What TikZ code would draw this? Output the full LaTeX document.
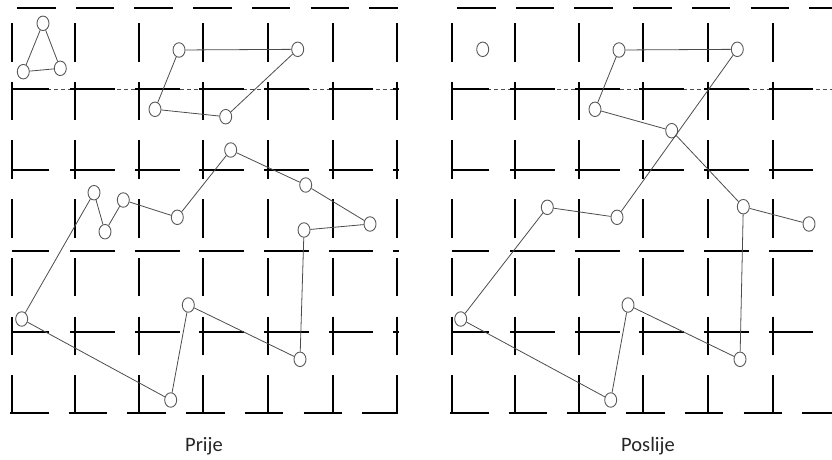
\documentclass[tikz,border=0pt]{standalone}
\usepackage{fontspec}
\setmainfont{Carlito}
\usetikzlibrary{shapes.geometric}
\begin{document}
\begin{tikzpicture}[x=1pt,y=-1pt,
  gridline/.style={line width=2.6pt, black},
  griddash/.style={gridline, dash pattern=on 38.5pt off 20.2pt},
  thinrule/.style={line width=0.7pt, black!70, dash pattern=on 4pt off 3pt},
  vx/.style={ellipse, draw=black!65, line width=0.9pt, minimum width=12pt,
    minimum height=14.5pt, inner sep=0pt},
  link/.style={black!70, line width=0.8pt},
  caption/.style={font=\fontsize{20.5}{24}\selectfont, text=black!85, anchor=base}]
\useasboundingbox (0,0) rectangle (832,459);

% dashed grids of both panels
\begin{scope}
\clip (0,0) rectangle (832,459);
\foreach \ox in {0,440} {
  \draw[thinrule] (12+\ox,89) -- (399+\ox,89);
  \foreach \X in {12,75,139,203,268,333,397}
    \draw[griddash] (\X+\ox,23) -- (\X+\ox,413.5);
  \draw[griddash] (17+\ox,8) -- (398+\ox,8);
  \draw[griddash] (10+\ox,413) -- (398+\ox,413);
  \foreach \Y in {89,170,251,332}
    \foreach \a/\b in {12/49,70/115,135/180,199/244,264/309,329/373,393/399}
      \draw[gridline] (\a+\ox,\Y) -- (\b+\ox,\Y);
}
\end{scope}

% graph before
\node[vx] (t1) at (43,23.3) {};
\node[vx] (t2) at (23.3,71.7) {};
\node[vx] (t3) at (60.3,68.3) {};
\node[vx] (q1) at (179,50) {};
\node[vx] (q2) at (297.7,49.3) {};
\node[vx] (q3) at (155,109.3) {};
\node[vx] (q4) at (225.7,116.7) {};
\node[vx] (p1) at (21.7,319) {};
\node[vx] (p2) at (94,192.7) {};
\node[vx] (p3) at (105,231.7) {};
\node[vx] (p4) at (123.3,200) {};
\node[vx] (p5) at (177.3,217.3) {};
\node[vx] (p6) at (230.7,150) {};
\node[vx] (p7) at (305.7,185) {};
\node[vx] (p8) at (370,224) {};
\node[vx] (p9) at (304,230) {};
\node[vx] (p10) at (300,359.3) {};
\node[vx] (p11) at (188.3,305) {};
\node[vx] (p12) at (170.7,400) {};

\draw[link] (t1) -- (t2) -- (t3) -- (t1);
\draw[link] (q2) -- (q1) -- (q3) -- (q4) -- (q2);
\draw[link] (p1) -- (p2) -- (p3) -- (p4) -- (p5) -- (p6) -- (p7) -- (p8)
  -- (p9) -- (p10) -- (p11) -- (p12) -- (p1);

% graph after
\node[vx] (a) at (482.7,49.3) {};
\node[vx] (b) at (619,50) {};
\node[vx] (c) at (737.3,49.3) {};
\node[vx] (d) at (595,109.3) {};
\node[vx] (e) at (671.7,130.7) {};
\node[vx] (f) at (547.3,207.3) {};
\node[vx] (g) at (617,217.3) {};
\node[vx] (h) at (743.3,206.7) {};
\node[vx] (i) at (809,224) {};
\node[vx] (j) at (460.7,319) {};
\node[vx] (k) at (628,305) {};
\node[vx] (l) at (610.7,400) {};
\node[vx] (m) at (740,359.3) {};

\draw[link] (c) -- (b) -- (d) -- (e) -- (h) -- (i);
\draw[link] (h) -- (m) -- (k) -- (l) -- (j) -- (f) -- (g) -- (c);

% captions
\node[caption] (cap1) at (204,451.5) {Prije};
\node[caption] (cap2) at (648,451.5) {Poslije};
\end{tikzpicture}
\end{document}
